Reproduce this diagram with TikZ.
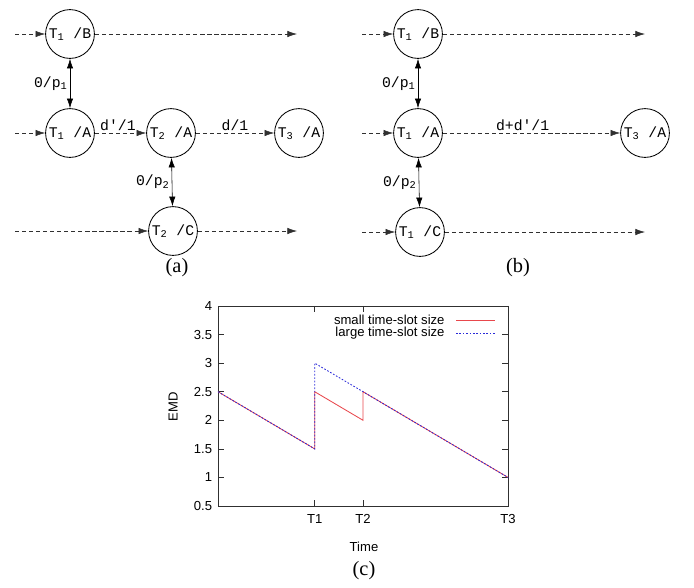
\documentclass[tikz,border=0pt]{standalone}
\usepackage{fontspec}
\setmainfont{Liberation Serif}
\setsansfont{Liberation Sans}
\setmonofont{Liberation Mono}
\usepackage{tikz}
\usetikzlibrary{arrows.meta,positioning}
\definecolor{slotred}{HTML}{E8474C}
\definecolor{slotblue}{HTML}{2A2AD8}
\definecolor{edgegray}{HTML}{303030}

\begin{document}
\begin{tikzpicture}[
  x=0.025cm, y=-0.025cm,
  state/.style={draw, circle, semithick, minimum size=1.22cm, inner sep=0pt,
                font=\ttfamily\fontsize{10.5}{12}\selectfont},
  flow/.style={densely dashed, draw=edgegray, -{Latex[length=2.4mm,width=1.6mm]}},
  link/.style={{Latex[length=2.4mm,width=1.6mm]}-{Latex[length=2.4mm,width=1.6mm]}},
  weight/.style={font=\ttfamily\fontsize{10.5}{12}\selectfont, inner sep=1.5pt},
  caption/.style={font=\fontsize{14.5}{16}\selectfont},
  ticklabel/.style={font=\sffamily\fontsize{9.3}{11}\selectfont, inner sep=1pt}
]
  \useasboundingbox (0,0) rectangle (694,587);

  % (a) split of T1/A
  \node[state] (aB1) at (70,34) {T\textsubscript{1} /B};
  \node[state] (aA1) at (70,133) {T\textsubscript{1} /A};
  \node[state] (aA2) at (171,133) {T\textsubscript{2} /A};
  \node[state] (aA3) at (299,133) {T\textsubscript{3} /A};
  \node[state] (aC2) at (173,231) {T\textsubscript{2} /C};
  \coordinate (aBin) at (15,34);   \coordinate (aBout) at (297,34);
  \coordinate (aAin) at (15,133);
  \coordinate (aCin) at (15,231);  \coordinate (aCout) at (297,231);

  \foreach \a/\b in {aBin/aB1,aB1/aBout,aAin/aA1,aCin/aC2,aC2/aCout}
    \draw[flow] (\a) -- (\b);
  \draw[flow] (aA1) -- node[weight, above, pos=0.45] {d'/1} (aA2);
  \draw[flow] (aA2) -- node[weight, above] {d/1} (aA3);
  \draw[link] (aB1) -- node[weight, left] {0/p\textsubscript{1}} (aA1);
  \draw[link] (aA2) -- node[weight, left] {0/p\textsubscript{2}} (aC2);
  \node[caption] (capa) at (177,268) {(a)};

  % (b) merged
  \node[state] (bB1) at (418,34) {T\textsubscript{1} /B};
  \node[state] (bA1) at (418,133) {T\textsubscript{1} /A};
  \node[state] (bA3) at (645,133) {T\textsubscript{3} /A};
  \node[state] (bC1) at (420,232) {T\textsubscript{1} /C};
  \coordinate (bBin) at (362,34);   \coordinate (bBout) at (645,34);
  \coordinate (bAin) at (362,133);
  \coordinate (bCin) at (362,232);  \coordinate (bCout) at (645,232);

  \foreach \a/\b in {bBin/bB1,bB1/bBout,bAin/bA1,bCin/bC1,bC1/bCout}
    \draw[flow] (\a) -- (\b);
  \draw[flow] (bA1) -- node[weight, above, pos=0.45] {d+d'/1} (bA3);
  \draw[link] (bB1) -- node[weight, left] {0/p\textsubscript{1}} (bA1);
  \draw[link] (bA1) -- node[weight, left] {0/p\textsubscript{2}} (bC1);
  \node[caption] (capb) at (518,268) {(b)};

  % (c) EMD over time
  \begin{scope}[shift={(218,534.6)}, x=1.2083cm, y=1.4286cm]
    \draw[thin, edgegray] (0,0.5) rectangle (6,4);
    \foreach \v in {0.5,1,1.5,2,2.5,3,3.5,4} {
      \draw[thin, edgegray] (0,\v) -- ++(0.12,0);
      \draw[thin, edgegray] (6,\v) -- ++(-0.12,0);
      \node[ticklabel, anchor=east] at ([xshift=-3pt]0,\v) {\v};
    }
    \foreach \t/\n in {2/T1,3/T2,6/T3} {
      \draw[thin, edgegray] (\t,0.5) -- ++(0,0.1);
      \draw[thin, edgegray] (\t,4) -- ++(0,-0.1);
      \node[ticklabel, anchor=north] at ([yshift=-5pt]\t,0.5) {\n};
    }
    \draw[slotred, semithick] (0,2.5) -- (2,1.5) -- (2,2.5) -- (3,2) -- (3,2.5) -- (6,1);
    \draw[slotblue, semithick, dash pattern=on 1.2pt off 1.2pt]
      (0,2.5) -- (2,1.5) -- (2,3) -- (3,2.5) -- (6,1);
    \node[ticklabel, anchor=east] (lgsmall) at (4.72,3.75) {small time-slot size};
    \node[ticklabel, anchor=east] (lglarge) at (4.72,3.52) {large time-slot size};
    \draw[slotred, semithick] ([xshift=7pt]lgsmall.east) -- ++(0.8,0);
    \draw[slotblue, semithick, dash pattern=on 1.2pt off 1.2pt]
      ([xshift=7pt]lglarge.east) -- ++(0.8,0);
  \end{scope}
  \node[ticklabel, rotate=90] (ylab) at (173,407) {EMD};
  \node[ticklabel] (xlab) at (364,547) {Time};
  \node[caption] (capc) at (364,571) {(c)};
\end{tikzpicture}
\end{document}
